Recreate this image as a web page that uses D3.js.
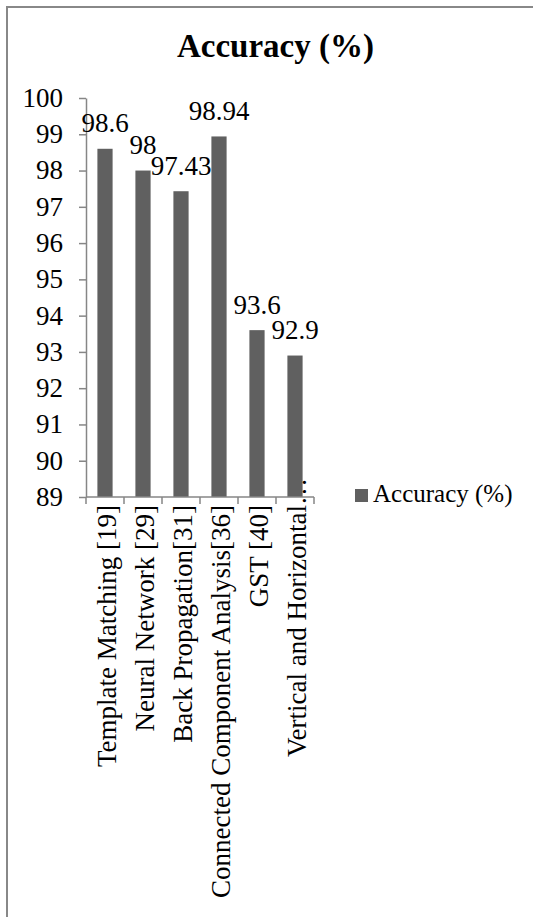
<!DOCTYPE html>
<html>
<head>
<meta charset="utf-8">
<script src="https://cdn.jsdelivr.net/npm/d3@7"></script>
<style>
  body { margin: 0; background: #fff; }
  svg text { font-family: "Liberation Serif", "Times New Roman", serif; fill: #000; }
</style>
</head>
<body>
<div id="viz"></div>
<script>
const categories = ['Template Matching [19]', 'Neural Network [29]', 'Back Propagation[31]',
  'Connected Component Analysis[36]', 'GST [40]', 'Vertical and Horizontal…'];
const accuracy = [98.6, 98, 97.43, 98.94, 93.6, 92.9];
const yTicks = [89, 90, 91, 92, 93, 94, 95, 96, 97, 98, 99, 100];
const seriesName = 'Accuracy (%)';

const width = 533;
const height = 917;
const barColor = '#606060';
const axisColor = '#868686';
const serif = '"Liberation Serif", "Times New Roman", serif';

const svg = d3.select('#viz')
  .append('svg')
  .attr('width', width)
  .attr('height', height)
  .attr('font-family', serif);

// chart area border (runs off the right and bottom edges)
svg.append('rect')
  .attr('x', 7)
  .attr('y', 7)
  .attr('width', 600)
  .attr('height', 1000)
  .attr('fill', 'none')
  .attr('stroke', '#888')
  .attr('stroke-width', 2);

svg.append('text')
  .attr('x', 275.5)
  .attr('y', 57)
  .attr('text-anchor', 'middle')
  .style('font-size', '33px')
  .style('font-weight', 'bold')
  .text(seriesName);

const x = d3.scaleBand()
  .domain(categories)
  .range([86, 314])
  .paddingInner(0.6)
  .paddingOuter(0.3);

const y = d3.scaleLinear()
  .domain([89, 100])
  .range([497, 98]);

// y axis: line and ticks from d3, labels drawn separately
const yAxis = svg.append('g')
  .attr('transform', 'translate(86,0)')
  .call(d3.axisLeft(y).tickValues(yTicks).tickSize(7).tickSizeOuter(0).tickFormat(''));
yAxis.select('.domain').attr('stroke', axisColor).attr('stroke-width', 1.5);
yAxis.selectAll('.tick line').attr('stroke', axisColor).attr('stroke-width', 1.5);

svg.append('g')
  .selectAll('text')
  .data(yTicks)
  .enter()
  .append('text')
  .attr('x', 63)
  .attr('y', d => y(d))
  .attr('dy', '0.33em')
  .attr('text-anchor', 'end')
  .style('font-size', '27px')
  .text(d => d);

// bars
svg.append('g')
  .selectAll('rect')
  .data(accuracy)
  .enter()
  .append('rect')
  .attr('x', (d, i) => x(categories[i]))
  .attr('y', d => y(d))
  .attr('width', x.bandwidth())
  .attr('height', d => y(89) - y(d))
  .attr('fill', barColor);

// data labels
svg.append('g')
  .selectAll('text')
  .data(accuracy)
  .enter()
  .append('text')
  .attr('x', (d, i) => x(categories[i]) + x.bandwidth() / 2)
  .attr('y', d => y(d) - 16.5)
  .attr('text-anchor', 'middle')
  .style('font-size', '27px')
  .text(d => d);

// x axis line with tick marks on band boundaries
const xAxis = svg.append('g');
xAxis.append('line')
  .attr('x1', 86).attr('x2', 314)
  .attr('y1', 497).attr('y2', 497)
  .attr('stroke', axisColor)
  .attr('stroke-width', 1.5);
xAxis.selectAll('line.tick')
  .data(d3.range(categories.length + 1))
  .enter()
  .append('line')
  .attr('class', 'tick')
  .attr('x1', i => 86 + i * x.step())
  .attr('x2', i => 86 + i * x.step())
  .attr('y1', 497)
  .attr('y2', 504)
  .attr('stroke', axisColor)
  .attr('stroke-width', 1.5);

// rotated category labels
const catLabels = xAxis.selectAll('text')
  .data(categories)
  .enter()
  .append('text')
  .attr('transform', d => `translate(${x(d) + x.bandwidth() / 2 + 10.8},505) rotate(-90)`)
  .attr('text-anchor', 'end')
  .style('font-size', '27px')
  .text(d => d);

// truncated label: ellipsis sticks out past the anchor like the original
catLabels.filter(d => d.endsWith('…'))
  .attr('dx', function(d) {
    return this.getSubStringLength(d.length - 1, 1);
  });

// legend
svg.append('rect')
  .attr('x', 355)
  .attr('y', 489)
  .attr('width', 13)
  .attr('height', 13)
  .attr('fill', barColor);
svg.append('text')
  .attr('x', 373)
  .attr('y', 502)
  .style('font-size', '25px')
  .text(seriesName);
</script>
</body>
</html>
